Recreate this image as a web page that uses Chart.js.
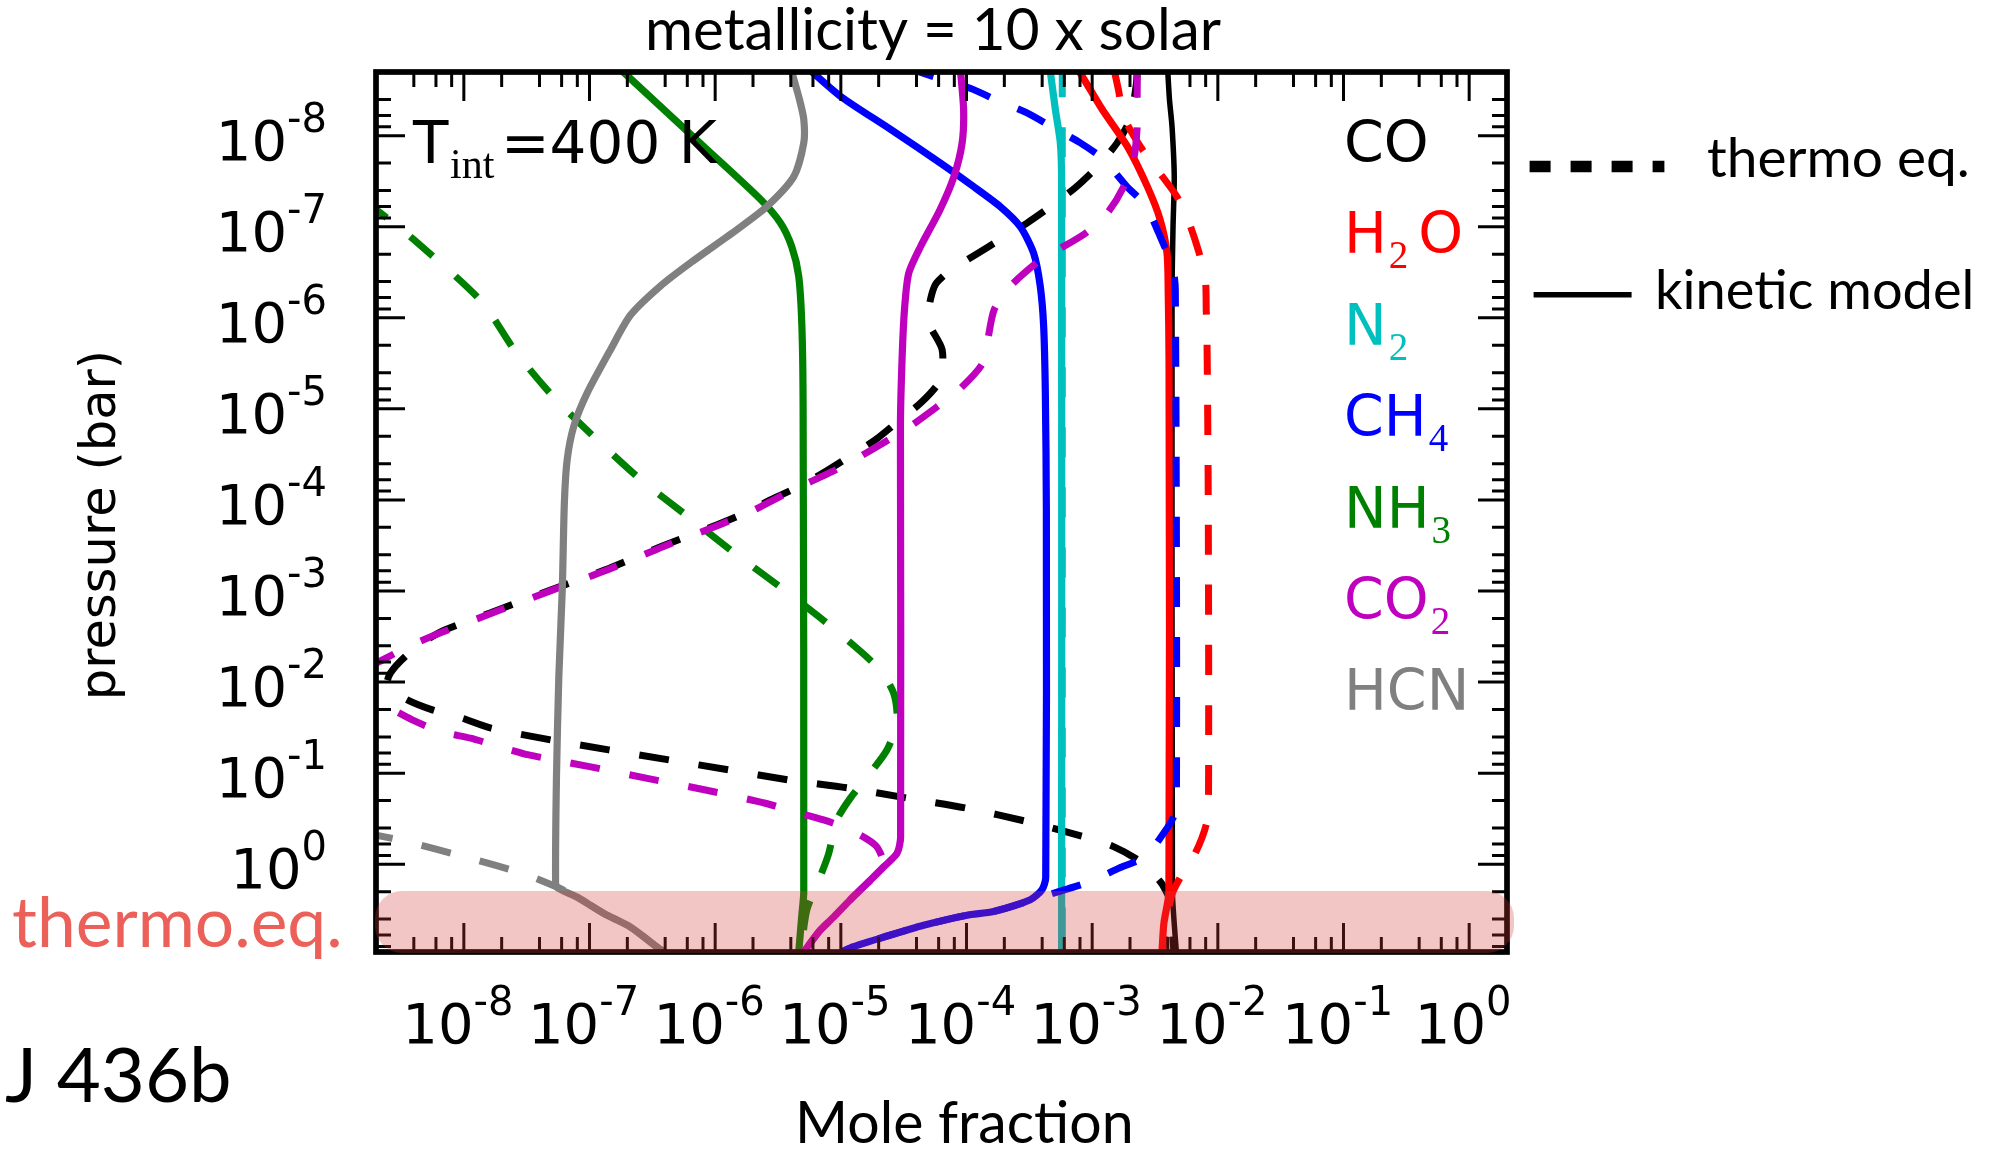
<!DOCTYPE html>
<html>
<head>
<meta charset="utf-8">
<title>metallicity = 10 x solar</title>
<script src="https://cdn.jsdelivr.net/npm/chart.js@4.4.1/dist/chart.umd.min.js"></script>
<style>
  html, body { margin: 0; padding: 0; background: #ffffff; }
  #chart { display: block; }
</style>
</head>
<body>
<canvas id="chart" width="1995" height="1149"></canvas>
<script>
// axis limits: mole fraction (x) and pressure in bar (y, reversed)
var xLimits = [2e-9, 2];
var pLimits = [2e-9, 9.2];
var majorTicks = [1e-8, 1e-7, 1e-6, 1e-5, 1e-4, 1e-3, 1e-2, 1e-1, 1];
var tickExponents = ['-8', '-7', '-6', '-5', '-4', '-3', '-2', '-1', '0'];
var minorSubs = [2, 4, 6, 8];

// species labels on the right side of the plot: [main, subscript, tail]
var speciesLabels = [['CO', '', ''], ['H', '2', 'O'], ['N', '2', ''], ['CH', '4', ''], ['NH', '3', ''], ['CO', '2', ''], ['HCN', '', '']];
var speciesColors = ['#000000', '#ff0000', '#00bfbf', '#0000ff', '#008000', '#bf00bf', '#808080'];

// profiles, each row is [pressure (bar), mole fraction]
var coThermo = [
  [1.78e-9, 2.29e-3], [2.82e-9, 2.24e-3], [6.61e-9, 2.0e-3], [1.20e-8, 1.58e-3], [2.19e-8, 1.10e-3],
  [3.72e-8, 7.35e-4], [6.03e-8, 4.65e-4], [9.12e-8, 3.03e-4], [1.38e-7, 1.86e-4], [2.04e-7, 1.17e-4],
  [3.09e-7, 7.24e-5], [4.17e-7, 5.75e-5], [5.37e-7, 5.32e-5], [7.94e-7, 5.01e-5], [1.15e-6, 5.01e-5],
  [2.24e-6, 6.4e-5], [4.79e-6, 6.19e-5], [8.32e-6, 4.44e-5], [1.45e-5, 2.72e-5], [2.19e-5, 1.88e-5],
  [3.47e-5, 1.12e-5], [5.01e-5, 7.31e-6], [7.41e-5, 4.36e-6], [1.0e-4, 2.75e-6], [1.35e-4, 1.82e-6],
  [1.86e-4, 1.05e-6], [3.24e-4, 3.72e-7], [5.89e-4, 1.32e-7], [9.77e-4, 4.9e-8], [1.66e-3, 1.78e-8],
  [2.88e-3, 6.31e-9], [5.01e-3, 3.55e-9], [7.94e-3, 2.61e-9], [1.12e-2, 2.45e-9], [1.57e-2, 3.55e-9],
  [2.02e-2, 5.61e-9], [2.49e-2, 9.7e-9], [3.21e-2, 1.65e-8], [4.31e-2, 4.9e-8], [5.55e-2, 1.42e-7],
  [7.14e-2, 4.28e-7], [9.2e-2, 1.28e-6], [0.119, 3.85e-6], [0.146, 1.16e-5], [0.188, 3.37e-5],
  [0.243, 1.01e-4], [0.340, 3.03e-4], [0.498, 8.55e-4], [0.641, 1.48e-3], [0.935, 2.42e-3],
  [1.55, 3.48e-3], [1.91, 3.82e-3], [2.51, 4.17e-3], [9.3, 4.47e-3]
];
var coKinetic = [
  [1.78e-9, 3.98e-3], [3.98e-9, 4.12e-3], [7.94e-9, 4.32e-3], [2.82e-8, 4.5e-3], [1e-7, 4.4e-3],
  [5.37e-7, 4.32e-3], [2.0, 4.35e-3], [3.98, 4.47e-3], [9.3, 4.68e-3]
];
var h2oKinetic = [
  [1.78e-9, 7.41e-4], [2e-9, 7.94e-4], [5.13e-9, 1.20e-3], [1.32e-8, 1.91e-3], [3.63e-8, 2.75e-3],
  [8.32e-8, 3.47e-3], [1.95e-7, 3.94e-3], [5.37e-7, 4.03e-3], [3.16e-6, 4.09e-3], [2.0, 4.08e-3],
  [4.47, 3.72e-3], [9.3, 3.59e-3]
];
var h2oThermo = [
  [1.78e-9, 1.48e-3], [3.16e-9, 1.62e-3], [6.17e-9, 1.78e-3], [1.32e-8, 2.42e-3], [2.34e-8, 3.28e-3],
  [4.68e-8, 4.73e-3], [8.71e-8, 5.85e-3], [1.86e-7, 7.03e-3], [3.63e-7, 7.94e-3], [8.51e-7, 8.09e-3],
  [1.74e-6, 8.2e-3], [1e-4, 8.39e-3], [0.174, 8.43e-3], [0.355, 8.13e-3], [0.759, 6.61e-3],
  [1.41, 5.01e-3], [2.24, 4.27e-3], [9.3, 3.63e-3]
];
var n2Kinetic = [
  [1.78e-9, 4.57e-4], [2e-9, 4.65e-4], [5.13e-9, 5.09e-4], [1.2e-8, 5.58e-4], [3.16e-8, 5.71e-4], [9.3, 5.71e-4]
];
var n2Thermo = [[1.78e-9, 5.78e-4], [9.3, 5.78e-4]];
var ch4Kinetic = [
  [1.78e-9, 5.5e-6], [2e-9, 5.92e-6], [3.72e-9, 1e-5], [8.51e-9, 2.48e-5], [2.0e-8, 6.19e-5],
  [3.63e-8, 1.14e-4], [6.03e-8, 1.86e-4], [1e-7, 2.68e-4], [1.95e-7, 3.42e-4], [4.47e-7, 3.86e-4],
  [1.23e-6, 4.11e-4], [6.76e-6, 4.24e-4], [1.29e-4, 4.32e-4], [1.41, 4.27e-4], [1.91, 3.98e-4],
  [2.45, 3.22e-4], [3.31, 1.64e-4], [3.63, 1.01e-4], [4.68, 4.56e-5], [6.31, 2.19e-5],
  [8.04, 1.26e-5], [9.3, 1e-5]
];
var ch4Thermo = [
  [1.78e-9, 3.24e-5], [2.14e-9, 4.9e-5], [3.02e-9, 1.07e-4], [4.17e-9, 1.80e-4], [5.62e-9, 3.03e-4],
  [8.22e-9, 4.93e-4], [1.2e-8, 8.05e-4], [1.82e-8, 1.23e-3], [3.63e-8, 1.89e-3], [5.75e-8, 2.65e-3],
  [1.17e-7, 3.38e-3], [2.82e-7, 4.37e-3], [4.9e-7, 4.59e-3], [0.224, 4.68e-3], [0.316, 4.37e-3],
  [0.457, 3.70e-3], [0.824, 2.65e-3], [1.11, 1.62e-3], [1.55, 9.66e-4], [2.0, 5.41e-4],
  [2.57, 3.03e-4], [3.31, 1.64e-4], [3.63, 1.01e-4], [4.68, 4.56e-5], [6.31, 2.19e-5],
  [8.04, 1.26e-5], [9.3, 1e-5]
];
var nh3Kinetic = [
  [1.78e-9, 1.70e-7], [2e-9, 1.86e-7], [1.32e-8, 8.13e-7], [5.0e-8, 2.29e-6], [9.1e-8, 3.31e-6],
  [1.66e-7, 4.07e-6], [3.47e-7, 4.62e-6], [1.26e-6, 4.90e-6], [1e-5, 5.01e-6], [2.0, 5.07e-6],
  [3.55, 4.90e-6], [9.3, 4.62e-6]
];
var nh3Thermo = [
  [5.0e-8, 1.58e-9], [1.38e-7, 3.98e-9], [6.61e-7, 1.38e-8], [2.34e-6, 2.57e-8], [7.59e-6, 5.25e-8],
  [2.19e-5, 1.15e-7], [6.03e-5, 2.57e-7], [1.51e-4, 6.03e-7], [3.98e-4, 1.48e-6], [1e-3, 3.63e-6],
  [2.57e-3, 8.71e-6], [7.08e-3, 2.0e-5], [1.32e-2, 2.63e-5], [2.69e-2, 2.8e-5], [5.5e-2, 2.34e-5],
  [0.105, 1.66e-5], [0.188, 1.19e-5], [0.324, 9.33e-6], [0.794, 7.94e-6], [1.55, 6.61e-6],
  [3.16, 5.37e-6], [9.3, 4.79e-6]
];
var co2Kinetic = [
  [1.78e-9, 8.91e-5], [5.13e-9, 9.48e-5], [1.2e-8, 9.23e-5], [2.82e-8, 7.94e-5], [6.46e-8, 6.17e-5],
  [1.66e-7, 4.30e-5], [3.24e-7, 3.47e-5], [8.13e-7, 3.21e-5], [2.88e-6, 3.07e-5], [1.55e-5, 2.98e-5],
  [0.501, 2.99e-5], [0.759, 2.8e-5], [1.07, 2.19e-5], [1.62, 1.62e-5], [2.45, 1.19e-5],
  [3.80, 8.77e-6], [5.25, 6.89e-6], [8.13, 5.4e-6], [9.3, 5.0e-6]
];
var co2Thermo = [
  [1.78e-9, 2.29e-3], [3.98e-9, 2.28e-3], [8.13e-9, 2.28e-3], [1.82e-8, 2.14e-3], [3.63e-8, 1.78e-3],
  [7.08e-8, 1.32e-3], [1.17e-7, 8.91e-4], [1.78e-7, 5.37e-4], [2.29e-7, 3.89e-4], [4.47e-7, 2.24e-4],
  [8.13e-7, 1.66e-4], [1.91e-6, 1.46e-4], [3.24e-6, 1.33e-4], [6.17e-6, 8.71e-5], [9.77e-6, 5.66e-5],
  [1.55e-5, 3.57e-5], [2.29e-5, 2.26e-5], [3.47e-5, 1.35e-5], [4.9e-5, 8.51e-6], [7.08e-5, 4.79e-6],
  [9.55e-5, 3.11e-6], [1.35e-4, 1.91e-6], [1.86e-4, 1.10e-6], [3.24e-4, 3.89e-7], [5.89e-4, 1.38e-7],
  [9.77e-4, 5.05e-8], [1.66e-3, 1.85e-8], [2.88e-3, 6.53e-9], [3.89e-3, 3.89e-9], [5.5e-3, 2.38e-9],
  [1e-2, 1.12e-9], [1.58e-2, 2.0e-9], [2.6e-2, 3.89e-9], [3.49e-2, 6.53e-9], [4.13e-2, 1.13e-8],
  [5.1e-2, 1.9e-8], [6.31e-2, 3.29e-8], [7.14e-2, 5.2e-8], [8.47e-2, 1e-7], [0.114, 2.88e-7],
  [0.153, 8.38e-7], [0.214, 2.51e-6], [0.264, 4.22e-6], [0.326, 7.29e-6], [0.42, 1.19e-5],
  [0.631, 1.91e-5], [1.07, 2.19e-5], [1.62, 1.62e-5], [2.45, 1.19e-5], [3.80, 8.77e-6],
  [5.25, 6.89e-6], [8.13, 5.4e-6], [9.3, 5.0e-6]
];
var hcnKinetic = [
  [1.78e-9, 3.98e-6], [3.98e-9, 4.68e-6], [6.61e-9, 5.07e-6], [1.2e-8, 5.07e-6], [2.82e-8, 4.22e-6],
  [6.03e-8, 2.57e-6], [1.07e-7, 1.50e-6], [2.51e-7, 6.31e-7], [4.47e-7, 3.67e-7], [9.33e-7, 2.12e-7],
  [2.24e-6, 1.47e-7], [6.76e-6, 9.55e-8], [1.55e-5, 7.5e-8], [3.63e-5, 6.64e-8], [1.07e-4, 6.31e-8],
  [9.77e-4, 6.07e-8], [8.71e-3, 5.70e-8], [0.110, 5.46e-8], [1.38, 5.37e-8], [1.78, 5.5e-8],
  [2.29, 7.94e-8], [3.47, 1.30e-7], [4.9, 2.12e-7], [8.13, 3.45e-7], [9.3, 3.98e-7]
];
var hcnThermo = [
  [0.447, 1.58e-9], [0.479, 2.0e-9], [0.562, 3.47e-9], [0.824, 1e-8], [1.256, 2.92e-8],
  [1.78, 5.5e-8], [2.29, 7.94e-8], [3.47, 1.30e-7], [4.9, 2.12e-7], [8.13, 3.45e-7], [9.3, 3.98e-7]
];

// drawing order, bottom first
var series = [
  { rows: coThermo, color: '#000000', dashed: true },
  { rows: coKinetic, color: '#000000', dashed: false, width: 5.5 },
  { rows: h2oKinetic, color: '#ff0000', dashed: false },
  { rows: h2oThermo, color: '#ff0000', dashed: true },
  { rows: n2Kinetic, color: '#00bfbf', dashed: false },
  { rows: n2Thermo, color: '#00bfbf', dashed: true },
  { rows: ch4Kinetic, color: '#0000ff', dashed: false },
  { rows: ch4Thermo, color: '#0000ff', dashed: true },
  { rows: nh3Kinetic, color: '#008000', dashed: false },
  { rows: nh3Thermo, color: '#008000', dashed: true },
  { rows: co2Kinetic, color: '#bf00bf', dashed: false },
  { rows: co2Thermo, color: '#bf00bf', dashed: true },
  { rows: hcnKinetic, color: '#808080', dashed: false },
  { rows: hcnThermo, color: '#808080', dashed: true }
];

var datasets = series.map(function (s, i) {
  return {
    data: s.rows.map(function (r) { return { x: r[1], y: r[0] }; }),
    showLine: true,
    borderColor: s.color,
    borderWidth: s.width || (s.dashed ? 7 : 7.2),
    borderDash: s.dashed ? [30, 30] : [],
    borderCapStyle: 'butt',
    borderJoinStyle: 'round',
    tension: 0.25,
    pointRadius: 0,
    fill: false,
    order: series.length - i // first entry is drawn underneath
  };
});

// text scaled so that its ink spans [left, right]
function fitText(ctx, text, left, right, baseline, family) {
  ctx.font = '100px ' + family;
  var m = ctx.measureText(text);
  var size = 100 * (right - left) / (m.actualBoundingBoxLeft + m.actualBoundingBoxRight);
  ctx.font = size.toFixed(1) + 'px ' + family;
  m = ctx.measureText(text);
  ctx.textAlign = 'left';
  ctx.fillText(text, left + m.actualBoundingBoxLeft, baseline);
}

// "10" with a superscript exponent
function drawPower(ctx, exp, x, baseline, align) {
  ctx.textAlign = 'left';
  ctx.font = '56px "DejaVu Sans"';
  var w1 = ctx.measureText('10').width;
  ctx.font = '40px "DejaVu Sans"';
  var w2 = ctx.measureText(exp).width;
  var left = align === 'center' ? x - (w1 + w2) / 2 : x - (w1 + w2);
  ctx.font = '56px "DejaVu Sans"';
  ctx.fillText('10', left, baseline);
  ctx.font = '40px "DejaVu Sans"';
  ctx.fillText(exp, left + w1, baseline - 28);
}

var decorations = {
  id: 'decorations',
  afterDatasetsDraw: function (chart) {
    var ctx = chart.ctx;
    var a = chart.chartArea;
    var sx = chart.scales.x;
    var sy = chart.scales.y;
    ctx.save();
    ctx.fillStyle = '#000000';
    ctx.strokeStyle = '#000000';
    ctx.textBaseline = 'alphabetic';

    // frame
    ctx.setLineDash([]);
    ctx.lineWidth = 5.7;
    ctx.strokeRect(a.left, a.top, a.right - a.left, a.bottom - a.top);

    // inward ticks on the four sides
    ctx.lineWidth = 3;
    function tick(v, len) {
      ctx.beginPath();
      if (v > xLimits[0] * 1.001 && v < xLimits[1] * 0.999) {
        var px = sx.getPixelForValue(v);
        ctx.moveTo(px, a.top); ctx.lineTo(px, a.top + len);
        ctx.moveTo(px, a.bottom); ctx.lineTo(px, a.bottom - len);
      }
      if (v > pLimits[0] * 1.001 && v < pLimits[1] * 0.999) {
        var py = sy.getPixelForValue(v);
        ctx.moveTo(a.left, py); ctx.lineTo(a.left + len, py);
        ctx.moveTo(a.right, py); ctx.lineTo(a.right - len, py);
      }
      ctx.stroke();
    }
    [1e-9].concat(majorTicks).forEach(function (d) {
      tick(d, 29);
      minorSubs.forEach(function (s) { tick(s * d, 15); });
    });

    // tick labels
    majorTicks.forEach(function (v, i) {
      drawPower(ctx, tickExponents[i], sx.getPixelForValue(v) - 6, 1043, 'center');
      drawPower(ctx, tickExponents[i], 327, sy.getPixelForValue(v) + 24, 'right');
    });

    // thermo.eq. band, drawn over the lines and the frame
    var bx = 375, by = 891, bw = 1139, bh = 62, r = 27;
    ctx.fillStyle = 'rgba(215, 58, 58, 0.29)';
    ctx.beginPath();
    ctx.moveTo(bx + r, by);
    ctx.arcTo(bx + bw, by, bx + bw, by + bh, r);
    ctx.arcTo(bx + bw, by + bh, bx, by + bh, r);
    ctx.arcTo(bx, by + bh, bx, by, r);
    ctx.arcTo(bx, by, bx + bw, by, r);
    ctx.closePath();
    ctx.fill();

    // T_int label
    ctx.fillStyle = '#000000';
    ctx.textAlign = 'left';
    ctx.font = '58px "DejaVu Sans"';
    ctx.fillText('T', 413, 163);
    ctx.font = '42px "Liberation Serif"';
    ctx.fillText('int', 450, 178);
    ctx.font = '58px "DejaVu Sans"';
    ctx.fillText('=400 K', 501, 163);

    // species names
    speciesLabels.forEach(function (parts, i) {
      var x = 1344;
      var y = 162 + i * 91.4;
      ctx.fillStyle = speciesColors[i];
      ctx.font = '57px "DejaVu Sans"';
      ctx.fillText(parts[0], x, y);
      x += ctx.measureText(parts[0]).width + 2;
      if (parts[1]) {
        ctx.font = '39px "Liberation Serif"';
        ctx.fillText(parts[1], x, y + 15);
        x += ctx.measureText(parts[1]).width + 10;
      }
      if (parts[2]) {
        ctx.font = '57px "DejaVu Sans"';
        ctx.fillText(parts[2], x, y);
      }
    });

    // legend outside the axes
    ctx.strokeStyle = '#000000';
    ctx.lineWidth = 11.5;
    ctx.setLineDash([21, 20]);
    ctx.beginPath();
    ctx.moveTo(1529.6, 166.5); ctx.lineTo(1664.4, 166.5);
    ctx.stroke();
    ctx.setLineDash([]);
    ctx.lineWidth = 5.4;
    ctx.beginPath();
    ctx.moveTo(1533.6, 294.7); ctx.lineTo(1631.6, 294.7);
    ctx.stroke();
    ctx.fillStyle = '#000000';
    fitText(ctx, 'thermo eq.', 1708, 1967, 177, 'Lato');
    fitText(ctx, 'kinetic model', 1658, 1970, 309, 'Lato');

    // title, axis titles and side notes
    fitText(ctx, 'metallicity = 10 x solar', 649, 1221, 50, 'Lato');
    fitText(ctx, 'Mole fraction', 800, 1130, 1143, 'Lato');
    fitText(ctx, 'J 436b', 5, 228, 1102, 'Lato');
    ctx.fillStyle = '#ec605a';
    fitText(ctx, 'thermo.eq.', 13, 339, 947, 'Lato');

    ctx.fillStyle = '#000000';
    ctx.save();
    ctx.translate(115, 525);
    ctx.rotate(-Math.PI / 2);
    ctx.font = '100px "DejaVu Sans"';
    var pw = ctx.measureText('pressure (bar)').width;
    ctx.font = (100 * 350 / pw).toFixed(1) + 'px "DejaVu Sans"';
    ctx.textAlign = 'center';
    ctx.fillText('pressure (bar)', 0, 0);
    ctx.restore();

    ctx.restore();
  }
};

var chart = new Chart(document.getElementById('chart'), {
  type: 'scatter',
  data: { datasets: datasets },
  options: {
    responsive: false,
    animation: false,
    devicePixelRatio: 1,
    layout: { padding: { left: 376, top: 72, right: 488, bottom: 197 } },
    plugins: { legend: { display: false }, tooltip: { enabled: false } },
    elements: { point: { radius: 0 } },
    scales: {
      x: { type: 'logarithmic', min: xLimits[0], max: xLimits[1], display: false },
      y: { type: 'logarithmic', min: pLimits[0], max: pLimits[1], reverse: true, display: false }
    }
  },
  plugins: [decorations]
});
</script>
</body>
</html>
